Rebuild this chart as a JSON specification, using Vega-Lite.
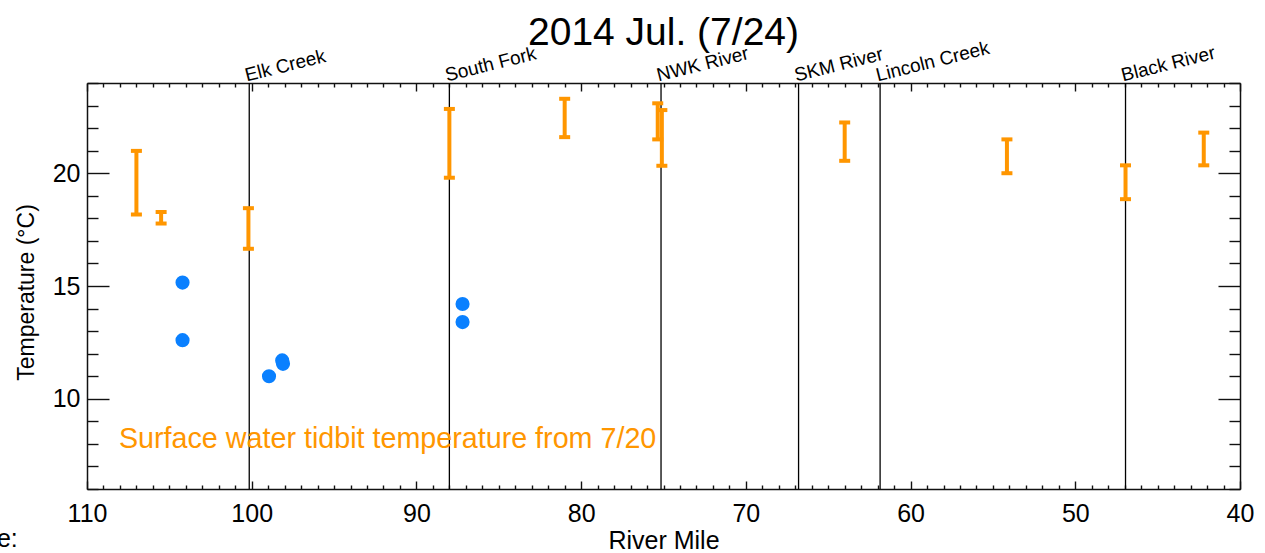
{
  "$schema": "https://vega.github.io/schema/vega-lite/v6.json",
  "width": 1153,
  "height": 406,
  "autosize": "none",
  "padding": {"left": 87, "top": 83, "right": 25, "bottom": 64},
  "background": "white",
  "title": {
    "text": "2014 Jul. (7/24)",
    "font": "Liberation Sans",
    "fontSize": 39,
    "fontWeight": "normal",
    "color": "#000",
    "anchor": "middle",
    "frame": "group",
    "baseline": "alphabetic",
    "offset": -45
  },
  "config": {
    "view": {"stroke": null},
    "font": "Liberation Sans",
    "axis": {
      "grid": false,
      "domainColor": "#111",
      "domainWidth": 1.5,
      "tickColor": "#111",
      "tickWidth": 1.4,
      "labelColor": "#000",
      "labelFont": "Liberation Sans",
      "labelFontSize": 25,
      "labelOverlap": false,
      "labelFlush": false,
      "titleColor": "#000",
      "titleFont": "Liberation Sans",
      "titleFontWeight": "normal"
    }
  },
  "datasets": {
    "tributaries": [
      {"name": "Elk Creek", "mile": 100.15},
      {"name": "South Fork", "mile": 88.0},
      {"name": "NWK River", "mile": 75.15},
      {"name": "SKM River", "mile": 66.8},
      {"name": "Lincoln Creek", "mile": 61.85},
      {"name": "Black River", "mile": 46.95}
    ],
    "tidbit": [
      {"mile": 107.0, "low": 18.17, "high": 20.99},
      {"mile": 105.5, "low": 17.77, "high": 18.28},
      {"mile": 100.2, "low": 16.65, "high": 18.45},
      {"mile": 88.0, "low": 19.8, "high": 22.85},
      {"mile": 81.0, "low": 21.6, "high": 23.3},
      {"mile": 75.35, "low": 21.5, "high": 23.1},
      {"mile": 75.1, "low": 20.33, "high": 22.8},
      {"mile": 64.0, "low": 20.55, "high": 22.25},
      {"mile": 54.15, "low": 20.0, "high": 21.5},
      {"mile": 46.95, "low": 18.85, "high": 20.35},
      {"mile": 42.2, "low": 20.35, "high": 21.8}
    ],
    "samples": [
      {"mile": 104.2, "temp": 15.15},
      {"mile": 104.2, "temp": 12.6},
      {"mile": 98.95, "temp": 11.0},
      {"mile": 98.15, "temp": 11.7},
      {"mile": 98.1, "temp": 11.55},
      {"mile": 87.2, "temp": 14.2},
      {"mile": 87.2, "temp": 13.4}
    ],
    "notes": [
      {"text": "Surface water tidbit temperature from 7/20", "mile": 108.06, "temp": 7.8}
    ],
    "margin": [
      {"text": "e:", "mile": 114.2, "temp": 3.45}
    ]
  },
  "layer": [
    {
      "data": {"name": "tributaries"},
      "mark": {"type": "rule", "color": "#000", "strokeWidth": 1.3},
      "encoding": {
        "x": {
          "field": "mile",
          "type": "quantitative",
          "scale": {"domain": [40, 110], "reverse": true, "nice": false, "zero": false},
          "axis": {
            "orient": "bottom",
            "title": "River Mile",
            "titleFontSize": 25,
            "titleBaseline": "alphabetic",
            "titleY": 59,
            "values": [40,41,42,43,44,45,46,47,48,49,50,51,52,53,54,55,56,57,58,59,60,61,62,63,64,65,66,67,68,69,70,71,72,73,74,75,76,77,78,79,80,81,82,83,84,85,86,87,88,89,90,91,92,93,94,95,96,97,98,99,100,101,102,103,104,105,106,107,108,109,110],
            "tickSize": {"condition": {"test": "datum.value % 10 === 0", "value": -8}, "value": -4},
            "labelExpr": "datum.value % 10 === 0 ? datum.label : ''",
            "labelPadding": 20
          }
        }
      }
    },
    {
      "data": {"name": "tributaries"},
      "mark": {"type": "text", "align": "left", "baseline": "alphabetic", "angle": 346, "fontSize": 19, "dx": -2, "dy": -2, "color": "#000"},
      "encoding": {
        "x": {"field": "mile", "type": "quantitative", "scale": {"domain": [40, 110], "reverse": true, "nice": false, "zero": false}, "axis": null},
        "y": {"datum": 24, "type": "quantitative", "scale": {"domain": [6, 24], "nice": false, "zero": false}, "axis": null},
        "text": {"field": "name"}
      }
    },
    {
      "data": {"name": "tidbit"},
      "mark": {"type": "rule", "color": "#ff9600", "strokeWidth": 4},
      "encoding": {
        "x": {"field": "mile", "type": "quantitative", "scale": {"domain": [40, 110], "reverse": true, "nice": false, "zero": false}, "axis": null},
        "y": {
          "field": "low",
          "type": "quantitative",
          "scale": {"domain": [6, 24], "nice": false, "zero": false},
          "axis": {
            "orient": "left",
            "title": "Temperature (°C)",
            "titleFontSize": 23,
            "titleAngle": -90,
            "titleAlign": "center",
            "titleBaseline": "alphabetic",
            "titleX": -54,
            "titleY": 209,
            "values": [6,7,8,9,10,11,12,13,14,15,16,17,18,19,20,21,22,23,24],
            "tickSize": {"condition": {"test": "datum.value % 5 === 0", "value": -22}, "value": -11},
            "labelExpr": "datum.value % 5 === 0 ? datum.label : ''",
            "labelPadding": 29
          }
        },
        "y2": {"field": "high"}
      }
    },
    {
      "data": {"name": "tidbit"},
      "mark": {"type": "tick", "orient": "horizontal", "color": "#ff9600", "size": 11, "thickness": 4, "opacity": 1},
      "encoding": {
        "x": {"field": "mile", "type": "quantitative", "scale": {"domain": [40, 110], "reverse": true, "nice": false, "zero": false}, "axis": null},
        "y": {"field": "low", "type": "quantitative", "scale": {"domain": [6, 24], "nice": false, "zero": false}, "axis": null}
      }
    },
    {
      "data": {"name": "tidbit"},
      "mark": {"type": "tick", "orient": "horizontal", "color": "#ff9600", "size": 11, "thickness": 4, "opacity": 1},
      "encoding": {
        "x": {"field": "mile", "type": "quantitative", "scale": {"domain": [40, 110], "reverse": true, "nice": false, "zero": false}, "axis": null},
        "y": {"field": "high", "type": "quantitative", "scale": {"domain": [6, 24], "nice": false, "zero": false}, "axis": null}
      }
    },
    {
      "data": {"name": "samples"},
      "mark": {"type": "circle", "color": "#0a80ff", "size": 200, "opacity": 1},
      "encoding": {
        "x": {
          "field": "mile",
          "type": "quantitative",
          "scale": {"domain": [40, 110], "reverse": true, "nice": false, "zero": false},
          "axis": {
            "orient": "top",
            "title": null,
            "labels": false,
            "values": [40,41,42,43,44,45,46,47,48,49,50,51,52,53,54,55,56,57,58,59,60,61,62,63,64,65,66,67,68,69,70,71,72,73,74,75,76,77,78,79,80,81,82,83,84,85,86,87,88,89,90,91,92,93,94,95,96,97,98,99,100,101,102,103,104,105,106,107,108,109,110],
            "tickSize": {"condition": {"test": "datum.value % 10 === 0", "value": -8}, "value": -4}
          }
        },
        "y": {
          "field": "temp",
          "type": "quantitative",
          "scale": {"domain": [6, 24], "nice": false, "zero": false},
          "axis": {
            "orient": "right",
            "title": null,
            "labels": false,
            "values": [6,7,8,9,10,11,12,13,14,15,16,17,18,19,20,21,22,23,24],
            "tickSize": {"condition": {"test": "datum.value % 5 === 0", "value": -22}, "value": -11}
          }
        }
      }
    },
    {
      "data": {"name": "notes"},
      "mark": {"type": "text", "align": "left", "baseline": "alphabetic", "fontSize": 28.7, "color": "#ff9600"},
      "encoding": {
        "x": {"field": "mile", "type": "quantitative", "scale": {"domain": [40, 110], "reverse": true, "nice": false, "zero": false}, "axis": null},
        "y": {"field": "temp", "type": "quantitative", "scale": {"domain": [6, 24], "nice": false, "zero": false}, "axis": null},
        "text": {"field": "text"}
      }
    },
    {
      "data": {"name": "margin"},
      "mark": {"type": "text", "align": "right", "baseline": "alphabetic", "fontSize": 25, "color": "#000"},
      "encoding": {
        "x": {"field": "mile", "type": "quantitative", "scale": {"domain": [40, 110], "reverse": true, "nice": false, "zero": false}, "axis": null},
        "y": {"field": "temp", "type": "quantitative", "scale": {"domain": [6, 24], "nice": false, "zero": false}, "axis": null},
        "text": {"field": "text"}
      }
    }
  ],
  "resolve": {"axis": {"x": "independent", "y": "independent"}}
}
